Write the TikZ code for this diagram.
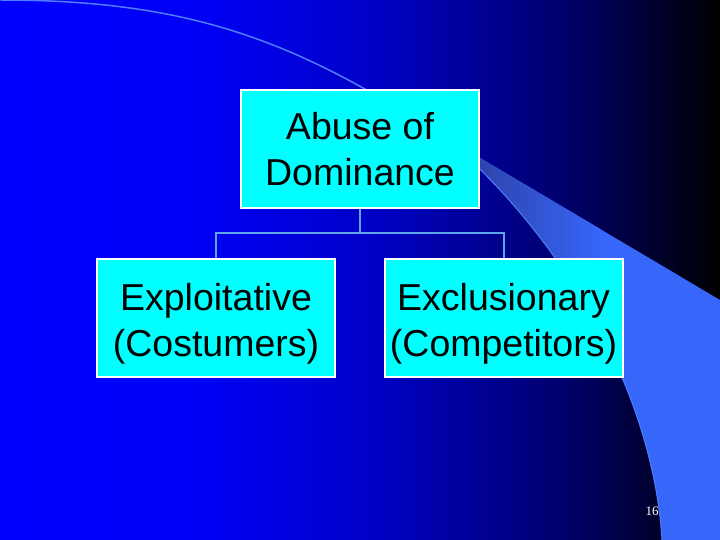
\documentclass[tikz,border=0pt]{standalone}
\usepackage{fontspec}
\setmainfont{Liberation Sans}
\newfontfamily\pagefont{Liberation Serif}
\definecolor{bg0}{RGB}{0,0,255}
\definecolor{bg1}{RGB}{0,0,245}
\definecolor{bg2}{RGB}{0,0,195}
\definecolor{bg3}{RGB}{0,0,110}
\definecolor{bg4}{RGB}{0,0,0}
\definecolor{swoosh}{RGB}{54,102,250}
\definecolor{swooshdark}{RGB}{45,65,165}
\definecolor{arcline}{RGB}{80,125,255}
\definecolor{boxfill}{RGB}{0,255,255}
\definecolor{conn}{RGB}{95,165,235}
\pgfdeclarehorizontalshading{bgshade}{100bp}{color(0bp)=(bg0); color(25bp)=(bg0); color(39bp)=(bg1); color(51.5bp)=(bg2); color(64bp)=(bg3); color(75bp)=(bg4); color(100bp)=(bg4)}
\tikzset{
  orgbox/.style={draw=white, line width=2pt, fill=boxfill, minimum width=238pt, minimum height=118pt, inner sep=0pt, align=center, font=\fontsize{37.5}{46}\selectfont, text=black, text height=73pt, text depth=0pt},
  connline/.style={draw=conn, line width=2pt}
}
\begin{document}
\begin{tikzpicture}[x=1pt,y=-1pt]
\useasboundingbox (0,0) rectangle (720,540);
\shade[shading=bgshade] (0,0) rectangle (720,540);
% swoosh
\begin{scope}
\clip (460,146) -- (720,300) -- (720,540) -- (662,540)
  .. controls (655,420) and (590,270) .. (460,150) -- cycle;
\fill[swoosh] (460,140) rectangle (720,540);
\shade[left color=swooshdark, right color=swoosh] (470,140) rectangle (600,540);
\end{scope}
\draw[arcline, line width=1pt] (662,540) .. controls (655,420) and (590,270) .. (460,150);
% thin arc
\draw[arcline, line width=1.5pt] (0,0) .. controls (150,0) and (250,25) .. (363,88) -- (470,152);
% boxes
\node[orgbox] (top) at (360,149) {Abuse of\\Dominance};
\node[orgbox, text height=76pt] (left) at (216,318) {Exploitative\\(Costumers)};
\node[orgbox, text height=76pt] (right) at (503.5,318) {Exclusionary\\(Competitors)};
\coordinate (j) at (360,233);
\draw[connline] (top.south) -- (j);
\draw[connline] (left.north) |- (j) -| (right.north);
\node[text=white, font=\pagefont\fontsize{13}{15}\selectfont] (pg) at (652,511) {16};
\end{tikzpicture}
\end{document}
